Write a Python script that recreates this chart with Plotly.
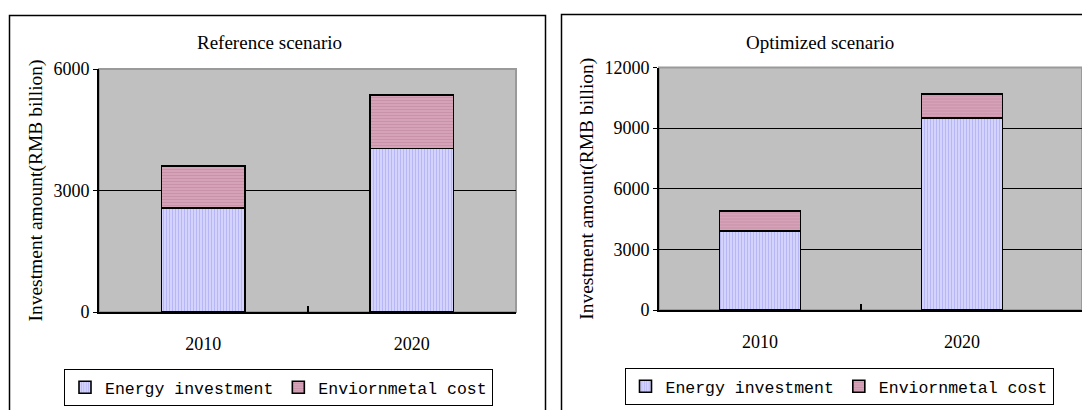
import plotly.graph_objects as go

W, H = 1082, 410

years = ["2010", "2020"]
series_names = ["Energy investment", "Enviornmetal cost"]

# Reference scenario (RMB billion)
ref_energy = [2565, 4035]
ref_env = [1045, 1330]

# Optimized scenario (RMB billion)
opt_energy = [3910, 9510]
opt_env = [990, 1175]

ref_ticks = [0, 3000, 6000]
opt_ticks = [0, 3000, 6000, 9000, 12000]

SERIF = "Liberation Serif"
MONO = "Liberation Mono"
energy_style = dict(color="#CFCFFF", line=dict(color="black", width=1.6),
                    pattern=dict(shape="|", fgcolor="#9A9AF0", bgcolor="#D4D4FF",
                                 size=3, solidity=0.38))
env_style = dict(color="#CC99AA", line=dict(color="black", width=1.6),
                 pattern=dict(shape="-", fgcolor="#B98197", bgcolor="#D7A3B8",
                              size=3, solidity=0.4))

xpos = [0, 1]

fig = go.Figure()


def px_x(v):
    return v / W


def px_y(v):
    return 1 - v / H


panels = [
    dict(energy=ref_energy, env=ref_env, xa="x", ya="y", legend="legend"),
    dict(energy=opt_energy, env=opt_env, xa="x2", ya="y2", legend="legend2"),
]
for p in panels:
    fig.add_trace(go.Bar(x=xpos, y=p["energy"], name=series_names[0], marker=energy_style,
                         xaxis=p["xa"], yaxis=p["ya"], legend=p["legend"], width=0.4))
    fig.add_trace(go.Bar(x=xpos, y=p["env"], name=series_names[1], marker=env_style,
                         xaxis=p["xa"], yaxis=p["ya"], legend=p["legend"], width=0.4))

xcommon = dict(tickvals=xpos, ticktext=years, ticks="", showgrid=False, zeroline=False,
               showline=True, linecolor="black", linewidth=2, automargin=False,
               ticklabelstandoff=14,
               tickfont=dict(family=SERIF, size=18, color="black"),
               minor=dict(tickvals=[0.5], ticks="inside", ticklen=6, tickcolor="black",
                          tickwidth=2, showgrid=False))
ycommon = dict(showgrid=True, gridcolor="black", gridwidth=1, zeroline=False,
               showline=True, linecolor="black", linewidth=2, ticks="outside",
               ticklen=4, tickcolor="black", automargin=False,
               tickfont=dict(family=SERIF, size=18, color="black"),
               title=dict(text="Investment amount(RMB billion)",
                          font=dict(family=SERIF, size=19.5, color="black"), standoff=6))

legend_common = dict(orientation="h", xanchor="center", yanchor="top",
                     bordercolor="black", borderwidth=1, bgcolor="white",
                     font=dict(family=MONO, size=16.5, color="black"),
                     traceorder="normal", itemwidth=30)


def open_frame(x0, x1, top):
    # frame with left, top and right sides; it runs on past the bottom edge
    return f"M {px_x(x0)},0 L {px_x(x0)},{px_y(top)} L {px_x(x1)},{px_y(top)} L {px_x(x1)},0"


fig.update_layout(
    width=W, height=H, margin=dict(l=0, r=0, t=0, b=0, pad=0, autoexpand=False),
    paper_bgcolor="white", plot_bgcolor="#C0C0C0",
    barmode="stack", showlegend=True,
    xaxis=dict(domain=[px_x(99), px_x(516)], range=[-0.5, 1.5], anchor="y", **xcommon),
    yaxis=dict(domain=[px_y(312), px_y(69)], range=[0, 6000], tickvals=ref_ticks,
               ticktext=[str(v) for v in ref_ticks], anchor="x", **ycommon),
    xaxis2=dict(domain=[px_x(659), 1.0], range=[-0.5, -0.5 + (W - 659) / 202],
                anchor="y2", **xcommon),
    yaxis2=dict(domain=[px_y(310), px_y(67.5)], range=[0, 12000], tickvals=opt_ticks,
                ticktext=[str(v) for v in opt_ticks], anchor="x2", **ycommon),
    legend=dict(x=px_x(278.5), y=px_y(369), **legend_common),
    legend2=dict(x=px_x(839), y=px_y(368), **legend_common),
    annotations=[
        dict(text="Reference scenario", x=px_x(269), y=px_y(43), xref="paper", yref="paper",
             xanchor="center", yanchor="middle", showarrow=False,
             font=dict(family=SERIF, size=19, color="black")),
        dict(text="Optimized scenario", x=px_x(820), y=px_y(43), xref="paper", yref="paper",
             xanchor="center", yanchor="middle", showarrow=False,
             font=dict(family=SERIF, size=19, color="black")),
    ],
    shapes=[
        # chart frames
        dict(type="path", xref="paper", yref="paper", path=open_frame(9.5, 545.5, 15.5),
             line=dict(color="black", width=1.5)),
        dict(type="path", xref="paper", yref="paper",
             path=f"M {px_x(561.5)},0 L {px_x(561.5)},{px_y(14.5)} L 1,{px_y(14.5)}",
             line=dict(color="black", width=1.5)),
        # plot area edges
        dict(type="rect", xref="x domain", yref="y domain", x0=0, x1=1, y0=0, y1=1,
             line=dict(color="#9A9A9A", width=2), layer="below"),
        dict(type="rect", xref="x2 domain", yref="y2 domain", x0=0, x1=1, y0=0, y1=1,
             line=dict(color="#9A9A9A", width=2), layer="below"),
    ],
)

fig.write_html("out.html")
